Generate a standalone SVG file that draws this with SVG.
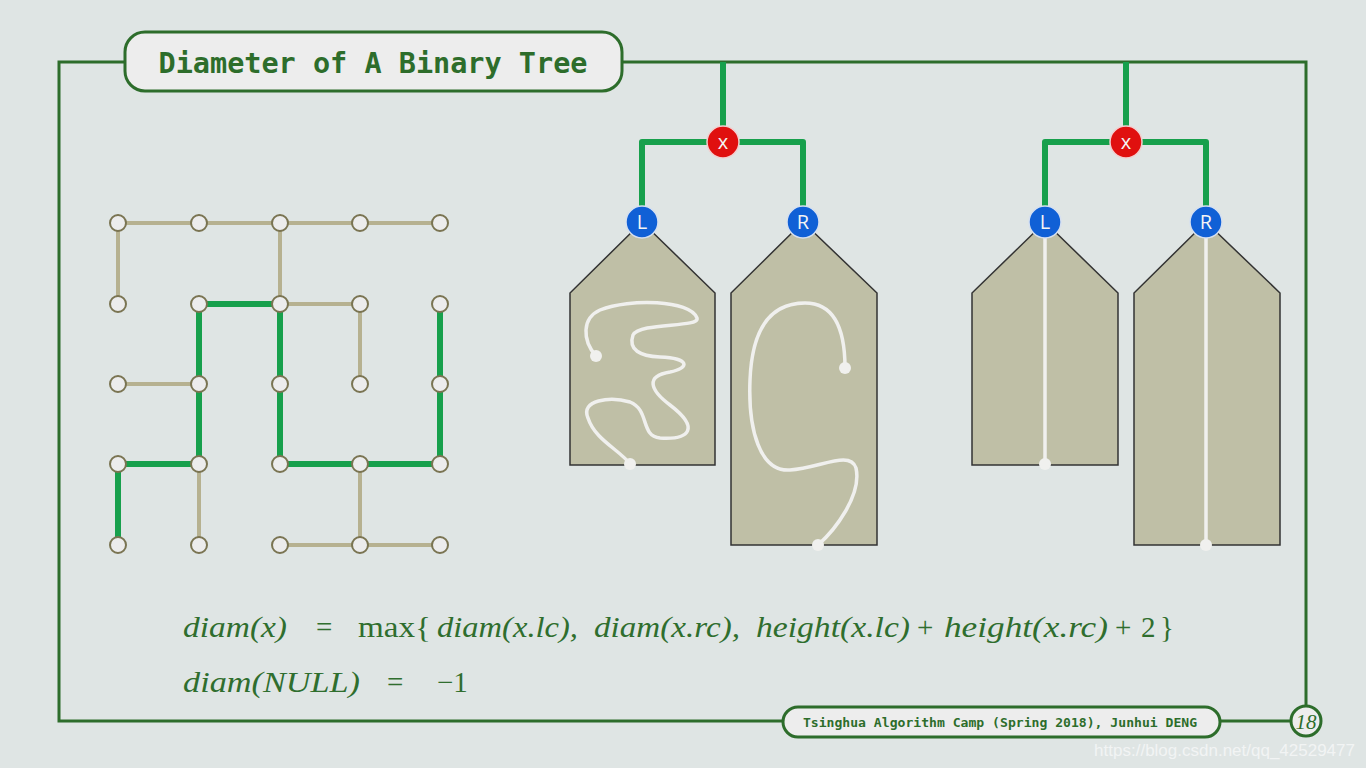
<svg xmlns="http://www.w3.org/2000/svg" width="1366" height="768" viewBox="0 0 1366 768">
<style>
.frame{fill:none;stroke:#2d6d2b;stroke-width:3}
.box{fill:#ededed;stroke:#2d6d2b;stroke-width:3}
.mono{font-family:"DejaVu Sans Mono","Liberation Mono",monospace;font-weight:bold;fill:#2d6d2b}
.tan{stroke:#b6b190;stroke-width:4;fill:none}
.grn{stroke:#17a04c;stroke-width:6;fill:none;stroke-linejoin:round}
.gn{fill:#ececec;stroke:#7a7452;stroke-width:2}
.pent{fill:#bfbfa6;stroke:#333;stroke-width:1.5}
.wl{fill:none;stroke:#f0f0ee;stroke-width:3.5;stroke-linecap:round}
.wd{fill:#f0f0ee}
.red{fill:#e0100f;stroke:#f2d0d0;stroke-width:1.5}
.blue{fill:#1060d6;stroke:#d6e0f0;stroke-width:1.5}
.lab{font-family:"Open Sans","Liberation Sans",sans-serif;font-size:20px;fill:#f4f4f4;text-anchor:middle}
.m{font-family:"Liberation Serif",serif;font-size:29px;fill:#2f6e2e}
.i{font-style:italic}
</style>
<rect width="1366" height="768" fill="#dfe5e4"/>

<rect class="frame" x="59" y="62" width="1247" height="659"/>

<g id="title">
<rect class="box" x="125" y="32" width="497" height="59" rx="20"/>
<text class="mono" x="373" y="73" font-size="28.5" text-anchor="middle">Diameter of A Binary Tree</text>
</g>

<g id="footer">
<rect class="box" x="783" y="707" width="437" height="30" rx="15"/>
<text class="mono" x="1000" y="727" font-size="13.1" text-anchor="middle">Tsinghua Algorithm Camp (Spring 2018), Junhui DENG</text>
</g>
<g id="page">
<circle class="box" cx="1306" cy="721" r="15"/>
<text x="1306" y="729" font-family="Liberation Serif,serif" font-style="italic" font-size="21" fill="#2d6d2b" text-anchor="middle">18</text>
</g>

<!-- grid tree -->
<g id="grid-edges">
<path class="tan" d="M118,223H440 M118,223V304 M280,223V304 M280,304H360V384 M118,384H199 M199,464V545 M360,464V545 M280,545H440"/>
<path class="grn" d="M118,545V464H199 M199,464V304H280 M280,304V464H440 M440,464V304"/>
</g>
<g id="grid-nodes">
<circle class="gn" cx="118" cy="223" r="8"/><circle class="gn" cx="199" cy="223" r="8"/><circle class="gn" cx="280" cy="223" r="8"/><circle class="gn" cx="360" cy="223" r="8"/><circle class="gn" cx="440" cy="223" r="8"/>
<circle class="gn" cx="118" cy="304" r="8"/><circle class="gn" cx="199" cy="304" r="8"/><circle class="gn" cx="280" cy="304" r="8"/><circle class="gn" cx="360" cy="304" r="8"/><circle class="gn" cx="440" cy="304" r="8"/>
<circle class="gn" cx="118" cy="384" r="8"/><circle class="gn" cx="199" cy="384" r="8"/><circle class="gn" cx="280" cy="384" r="8"/><circle class="gn" cx="360" cy="384" r="8"/><circle class="gn" cx="440" cy="384" r="8"/>
<circle class="gn" cx="118" cy="464" r="8"/><circle class="gn" cx="199" cy="464" r="8"/><circle class="gn" cx="280" cy="464" r="8"/><circle class="gn" cx="360" cy="464" r="8"/><circle class="gn" cx="440" cy="464" r="8"/>
<circle class="gn" cx="118" cy="545" r="8"/><circle class="gn" cx="199" cy="545" r="8"/><circle class="gn" cx="280" cy="545" r="8"/><circle class="gn" cx="360" cy="545" r="8"/><circle class="gn" cx="440" cy="545" r="8"/>
</g>

<!-- connectors for the two schematic trees -->
<g id="connectors">
<path class="grn" d="M723,62V126 M642,222V142H803V222"/>
<path class="grn" d="M1126,62V126 M1045,222V142H1206V222"/>
</g>

<!-- middle tree -->
<g id="mid-left-subtree">
<polygon class="pent" points="570,465 570,293 642,222 715,293 715,465"/>
<path class="wl" d="M596,356 C582,340 582,318 600,310 C630,298 690,300 697,318 C700,328 640,322 633,335 C628,350 640,356 660,357 C690,358 690,368 670,372 C645,376 650,390 670,405 C700,428 690,440 660,438 C640,436 650,410 630,402 C610,396 580,400 588,418 C595,440 620,450 630,464"/>
<circle class="wd" cx="596" cy="356" r="6"/>
<circle class="wd" cx="630" cy="464" r="6"/>
</g>
<g id="mid-right-subtree">
<polygon class="pent" points="731,545 731,293 803,222 877,293 877,545"/>
<path class="wl" d="M845,368 C845,330 835,303 805,303 C770,303 752,330 750,380 C748,430 760,472 790,470 C820,468 850,450 856,468 C862,495 835,530 818,545"/>
<circle class="wd" cx="845" cy="368" r="6"/>
<circle class="wd" cx="818" cy="545" r="6"/>
</g>
<g id="mid-x"><circle class="red" cx="723" cy="142" r="16"/><text class="lab" x="723" y="149">x</text></g>
<g id="mid-L"><circle class="blue" cx="642" cy="222" r="16"/><text class="lab" x="642" y="229">L</text></g>
<g id="mid-R"><circle class="blue" cx="803" cy="222" r="16"/><text class="lab" x="803" y="229">R</text></g>

<!-- right tree -->
<g id="right-left-subtree">
<polygon class="pent" points="972,465 972,293 1045,222 1118,293 1118,465"/>
<path class="wl" d="M1045,230V464"/>
<circle class="wd" cx="1045" cy="464" r="6"/>
</g>
<g id="right-right-subtree">
<polygon class="pent" points="1134,545 1134,293 1206,222 1280,293 1280,545"/>
<path class="wl" d="M1206,230V545"/>
<circle class="wd" cx="1206" cy="545" r="6"/>
</g>
<g id="right-x"><circle class="red" cx="1126" cy="142" r="16"/><text class="lab" x="1126" y="149">x</text></g>
<g id="right-L"><circle class="blue" cx="1045" cy="222" r="16"/><text class="lab" x="1045" y="229">L</text></g>
<g id="right-R"><circle class="blue" cx="1206" cy="222" r="16"/><text class="lab" x="1206" y="229">R</text></g>

<!-- formulas -->
<g id="formula">
<text class="m i" x="183" y="637" textLength="104" lengthAdjust="spacingAndGlyphs">diam(x)</text>
<text class="m" x="316" y="637">=</text>
<text class="m" x="358" y="637" textLength="73" lengthAdjust="spacingAndGlyphs">max{</text>
<text class="m i" x="437" y="637" textLength="141" lengthAdjust="spacingAndGlyphs">diam(x.lc),</text>
<text class="m i" x="594" y="637" textLength="146" lengthAdjust="spacingAndGlyphs">diam(x.rc),</text>
<text class="m i" x="756" y="637" textLength="154" lengthAdjust="spacingAndGlyphs">height(x.lc)</text>
<text class="m" x="917" y="637">+</text>
<text class="m i" x="944" y="637" textLength="164" lengthAdjust="spacingAndGlyphs">height(x.rc)</text>
<text class="m" x="1115" y="637">+</text>
<text class="m" x="1141" y="637">2</text>
<text class="m" x="1160" y="637">}</text>
<text class="m i" x="183" y="692" textLength="177" lengthAdjust="spacingAndGlyphs">diam(NULL)</text>
<text class="m" x="387" y="692">=</text>
<text class="m" x="437" y="692">−1</text>
</g>

<text x="1355" y="756" font-family="Liberation Sans,sans-serif" font-size="17" fill="#f2f4f4" text-anchor="end">https://blog.csdn.net/qq_42529477</text>
</svg>
